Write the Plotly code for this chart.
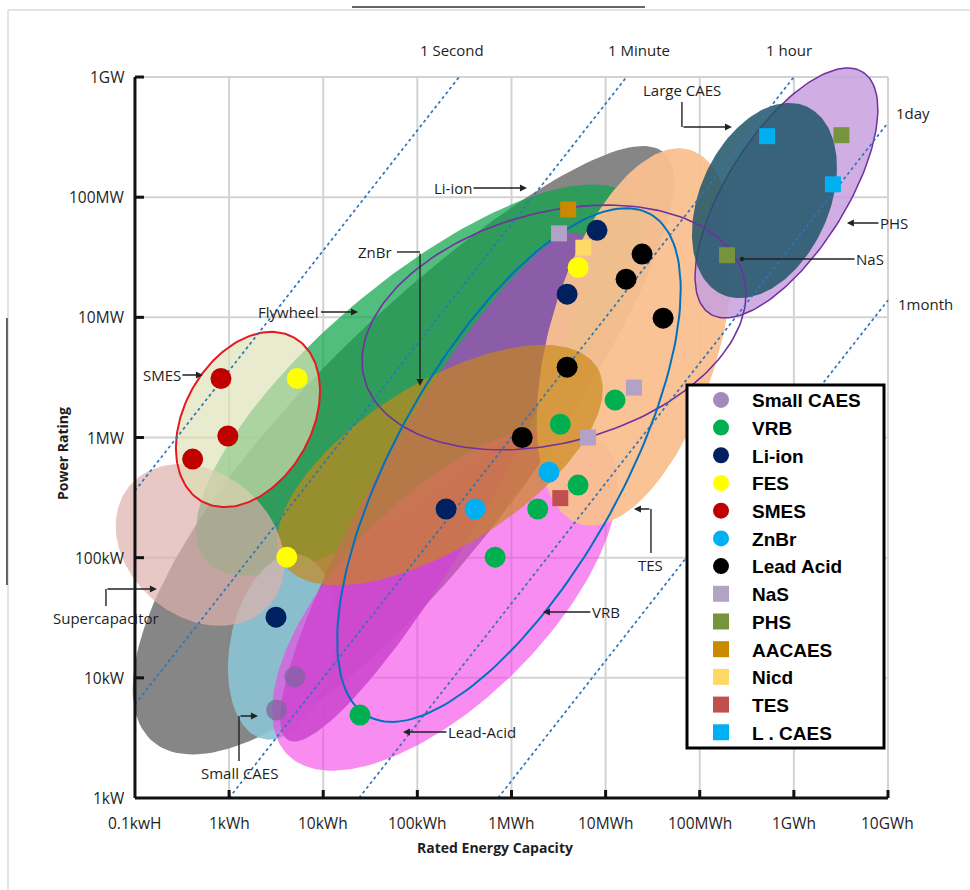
import numpy as np
import plotly.graph_objects as go

# ---------------------------------------------------------------- geometry
FIG_W, FIG_H = 970, 890
MARGIN = dict(l=96, r=79, t=59, b=89)
X_RANGE = [-1.414, 7.032]      # log10(kWh)
Y_RANGE = [-0.025, 6.15]       # log10(kW)
PX_X = (FIG_W - MARGIN["l"] - MARGIN["r"]) / (X_RANGE[1] - X_RANGE[0])
PX_Y = (FIG_H - MARGIN["t"] - MARGIN["b"]) / (Y_RANGE[1] - Y_RANGE[0])

# ---------------------------------------------------------------- axes
ENERGY_TICKS = [0.1, 1, 10, 1e2, 1e3, 1e4, 1e5, 1e6, 1e7]          # kWh
ENERGY_LABELS = ["0.1kwH", "1kWh", "10kWh", "100kWh", "1MWh", "10MWh",
                 "100MWh", "1GWh", "10GWh"]
POWER_TICKS = [1, 10, 1e2, 1e3, 1e4, 1e5, 1e6]                      # kW
POWER_LABELS = ["1kW", "10kW", "100kW", "1MW", "10MW", "100MW", "1GW"]

# discharge-time reference lines (hours)
DURATION_HOURS = [1 / 3600, 1 / 60, 1, 24, 720]
DURATION_LABELS = ["1 Second", "1 Minute", "1 hour", "1day", "1month"]

# ---------------------------------------------------------------- technologies (kWh, kW)
SMALL_CAES_E = [5.0, 3.2]
SMALL_CAES_P = [10.2, 5.4]
VRB_E = [24.6, 670, 1900, 5100, 3300, 12600]
VRB_P = [4.9, 101, 254, 402, 1290, 2050]
LI_ION_E = [3.15, 202, 3900, 8100]
LI_ION_P = [32, 254, 15600, 53000]
FES_E = [5.3, 4.1, 5100]
FES_P = [3100, 101, 26000]
SMES_E = [0.82, 0.97, 0.41]
SMES_P = [3100, 1030, 661]
ZNBR_E = [410, 2500]
ZNBR_P = [254, 515]
LEAD_ACID_E = [1300, 3900, 16500, 24400, 40800]
LEAD_ACID_P = [1000, 3850, 20800, 33600, 9850]
NAS_E = [3200, 20000, 6500]
NAS_P = [50000, 2600, 1000]
PHS_E = [195000, 3.2e6]
PHS_P = [32900, 328000]
AACAES_E = [4000]
AACAES_P = [79000]
NICD_E = [5800]
NICD_P = [38000]
TES_E = [3300]
TES_P = [313]
LCAES_E = [520000, 2.6e6]
LCAES_P = [322000, 128000]

TECH_NAMES = ["Small CAES", "VRB", "Li-ion", "FES", "SMES", "ZnBr", "Lead Acid",
              "NaS", "PHS", "AACAES", "Nicd", "TES", "L . CAES"]
TECH_E = [SMALL_CAES_E, VRB_E, LI_ION_E, FES_E, SMES_E, ZNBR_E, LEAD_ACID_E,
          NAS_E, PHS_E, AACAES_E, NICD_E, TES_E, LCAES_E]
TECH_P = [SMALL_CAES_P, VRB_P, LI_ION_P, FES_P, SMES_P, ZNBR_P, LEAD_ACID_P,
          NAS_P, PHS_P, AACAES_P, NICD_P, TES_P, LCAES_P]
TECH_COLORS = ["#8064A2", "#00B050", "#002060", "#FFFF00", "#C00000", "#00B0F0",
               "#000000", "#B3A2C7", "#77933C", "#C98A00", "#FFD966", "#C0504D",
               "#00B0F0"]
TECH_SYMBOLS = ["circle"] * 7 + ["square"] * 6
TECH_OPACITY = [0.75] + [1.0] * 12

# ---------------------------------------------------------------- operating regions
REGION_NAMES = ["Li-ion", "Flywheel", "Small CAES", "NiCd", "Lead-Acid", "TES",
                "ZnBr", "Supercapacitor", "SMES", "PHS", "Large CAES", "NaS", "VRB"]
REGION_E = [80.0, 106.7, 3.65, 150, 196, 20500, 174, 0.491, 1.587,
            834000, 487000, 2830, 940]                                   # centre, kWh
REGION_P = [835, 3010, 18.1, 387, 46.2, 6870, 590, 127.6, 1413,
            108400, 93800, 8240, 590]                                    # centre, kW
REGION_HALF_LEN = [390, 280, 94, 292, 222, 195, 185, 92, 94, 143, 103, 196.5, 288]
REGION_HALF_WID = [116, 100, 52, 56, 102, 85, 82, 72, 63.5, 59.4, 64.6, 115, 112]
REGION_TILT = [49, 40, 79, 60, 45, 73.7, 32, -40, 60.6, 57.7, 65.8, 15.2, 60.6]
REGION_EGG = [0.18, 0, 0, 0, 0, 0, 0, 0, 0, 0, 0, 0, 0]
REGION_FILL = ["rgba(127,127,127,0.95)", "rgba(15,165,75,0.72)",
               "rgba(140,196,212,0.9)", "rgba(150,85,175,0.9)",
               "rgba(243,63,230,0.6)", "rgba(249,192,143,0.95)",
               "rgba(200,135,25,0.68)", "rgba(222,177,171,0.7)",
               "rgba(220,225,180,0.65)", "rgba(200,160,222,0.85)",
               "rgba(30,85,105,0.85)", None, None]
REGION_LINE = [None, None, None, None, None, None, None, None,
               "rgb(230,25,35)", "rgb(112,48,160)", None,
               "rgb(112,48,160)", "rgb(0,112,192)"]
REGION_LINE_W = [0, 0, 0, 0, 0, 0, 0, 0, 2, 1.5, 0, 1.6, 2]


def ellipse(e, p, a, b, tilt, egg=0.0, n=180):
    """Outline of a tilted (optionally egg-shaped) ellipse, sized in screen px,
    returned in data units (kWh, kW)."""
    t = np.linspace(0, 2 * np.pi, n)
    u = a * np.cos(t)
    v = b * np.sin(t) * (1 - egg * np.cos(t))
    th = np.radians(tilt)
    dx = u * np.cos(th) - v * np.sin(th)
    dy = u * np.sin(th) + v * np.cos(th)
    return 10 ** (np.log10(e) + dx / PX_X), 10 ** (np.log10(p) + dy / PX_Y)


fig = go.Figure()


def add_line(xs, ys, color, width, dash=None):
    fig.add_trace(go.Scatter(x=xs, y=ys, mode="lines",
                             line=dict(color=color, width=width, dash=dash),
                             hoverinfo="skip", showlegend=False))


# grid
gx, gy = [], []
for e in ENERGY_TICKS[1:]:
    gx += [e, e, None]
    gy += [POWER_TICKS[0], POWER_TICKS[-1], None]
for p in POWER_TICKS[1:]:
    gx += [ENERGY_TICKS[0], ENERGY_TICKS[-1], None]
    gy += [p, p, None]
add_line(gx, gy, "#D3D3D3", 2)

# shaded technology regions
for i, name in enumerate(REGION_NAMES):
    xs, ys = ellipse(REGION_E[i], REGION_P[i], REGION_HALF_LEN[i],
                     REGION_HALF_WID[i], REGION_TILT[i], REGION_EGG[i])
    fill = REGION_FILL[i]
    fig.add_trace(go.Scatter(
        x=xs, y=ys, mode="lines", name=name,
        fill="toself" if fill else "none",
        fillcolor=fill if fill else None,
        line=dict(color=REGION_LINE[i] or "rgba(0,0,0,0)", width=REGION_LINE_W[i]),
        hoverinfo="skip", showlegend=False))

# discharge-time lines  E = P * t
lx_min, lx_max = np.log10(ENERGY_TICKS[0]), np.log10(ENERGY_TICKS[-1])
ly_min, ly_max = np.log10(POWER_TICKS[0]), np.log10(POWER_TICKS[-1])
dur_ends = []
for h in DURATION_HOURS:
    lt = np.log10(h)
    y0 = max(ly_min, lx_min - lt)
    y1 = min(ly_max, lx_max - lt)
    add_line([10 ** (y0 + lt), 10 ** (y1 + lt)], [10 ** y0, 10 ** y1],
             "#2E75B6", 1.7, "dot")
    dur_ends.append((y1 + lt, y1))

# axes lines and inward ticks
add_line([ENERGY_TICKS[0], ENERGY_TICKS[0]], [POWER_TICKS[0], POWER_TICKS[-1]], "#111", 3)
add_line([ENERGY_TICKS[0], ENERGY_TICKS[-1]], [POWER_TICKS[0], POWER_TICKS[0]], "#111", 3)
tx, ty = [], []
for e in ENERGY_TICKS[1:]:
    tx += [e, e, None]
    ty += [POWER_TICKS[0], POWER_TICKS[0] * 10 ** (8 / PX_Y), None]
for p in POWER_TICKS[1:]:
    tx += [ENERGY_TICKS[0], ENERGY_TICKS[0] * 10 ** (9 / PX_X), None]
    ty += [p, p, None]
add_line(tx, ty, "#111", 3)

# leader lines that turn a corner (label -> corner)
LEADERS_E = [[60.7, 106.7], [64700, 64700], [0.0492, 0.0492], [1.274, 1.274], [30340, 30340]]
LEADERS_P = [[35000, 35000], [620000, 383900], [39.6, 54.9], [2.03, 4.81], [109.4, 254]]
for xs, ys in zip(LEADERS_E, LEADERS_P):
    add_line(xs, ys, "#222", 1.4)

# technology markers
for i, name in enumerate(TECH_NAMES):
    fig.add_trace(go.Scatter(
        x=TECH_E[i], y=TECH_P[i], mode="markers", name=name,
        legendgroup=name,
        marker=dict(color=TECH_COLORS[i], symbol=TECH_SYMBOLS[i],
                    size=21 if TECH_SYMBOLS[i] == "circle" else 16,
                    opacity=TECH_OPACITY[i], line=dict(width=0)),
        hoverinfo="skip"))

# ---------------------------------------------------------------- text
TXT = dict(family="Open Sans", size=15, color="#1e1e1e")
ann = []
for p, lab in zip(POWER_TICKS, POWER_LABELS):
    ann.append(dict(x=np.log10(ENERGY_TICKS[0]), y=np.log10(p), text=lab,
                    xanchor="right", yanchor="middle", xshift=-8,
                    showarrow=False, font=dict(TXT, size=15.5)))
for e, lab in zip(ENERGY_TICKS, ENERGY_LABELS):
    ann.append(dict(x=np.log10(e), y=np.log10(POWER_TICKS[0]), text=lab,
                    xanchor="center", yanchor="top", yshift=-12,
                    showarrow=False, font=dict(TXT, size=15.5)))

# duration labels beside the ends of their lines
DUR_SHIFT = [(-7, 27, "center"), (13, 27, "center"), (-5, 27, "center"),
             (6, 10, "left"), (8, -4, "left")]
for (lx, ly), lab, (xs, ys, xa) in zip(dur_ends, DURATION_LABELS, DUR_SHIFT):
    ann.append(dict(x=lx, y=ly, text=lab, xanchor=xa, yanchor="middle",
                    xshift=xs, yshift=ys, showarrow=False, font=TXT))

ARROW = dict(showarrow=True, arrowhead=2, arrowsize=1, arrowwidth=1.4,
             arrowcolor="#222", font=TXT)
# straight arrows: label, tip energy, tip power, ax, ay
STRAIGHT = [("Li-ion", 1459, 119400, -74, 0),
            ("Flywheel", 23.4, 11090, -69, 0),
            ("SMES", 0.527, 3311, -41, 0),
            ("PHS", 3.66e6, 61000, 47, 0),
            ("Lead-Acid", 70.3, 3.54, 79, 0),
            ("VRB", 2158, 35.3, 63, 0)]
for lab, e, p, ax, ay in STRAIGHT:
    ann.append(dict(ARROW, x=np.log10(e), y=np.log10(p), text=lab, ax=ax, ay=ay))
ann.append(dict(ARROW, x=np.log10(281000), y=np.log10(30600), text="NaS",
                ax=128, ay=0, arrowhead=6, arrowsize=0.8))

# arrowheads of the cornered leaders
CORNER_TIPS = [(106.7, 2685, 0, -134), (219800, 383900, -50, 0),
               (0.171, 54.9, -51, 0), (2.026, 4.81, -19, 0), (20000, 254, 17, 0)]
for e, p, ax, ay in CORNER_TIPS:
    ann.append(dict(ARROW, x=np.log10(e), y=np.log10(p), text="", ax=ax, ay=ay))
CORNER_LABELS = [("ZnBr", 60.7, 35000, "right", "middle", -3, 0),
                 ("Large CAES", 64700, 620000, "center", "bottom", 0, 0),
                 ("Supercapacitor", 0.0492, 39.6, "center", "top", 0, 0),
                 ("Small CAES", 1.274, 2.03, "center", "top", 0, 0),
                 ("TES", 30340, 109.4, "center", "top", 0, 0)]
for lab, e, p, xa, ya, xs, ys in CORNER_LABELS:
    ann.append(dict(x=np.log10(e), y=np.log10(p), text=lab, xanchor=xa,
                    yanchor=ya, xshift=xs, yshift=ys, showarrow=False, font=TXT))

# axis titles
ann.append(dict(xref="paper", yref="paper", x=0.502, y=-0.0633,
                text="<b>Rated Energy Capacity</b>", showarrow=False,
                xanchor="center", yanchor="middle",
                font=dict(family="Open Sans", size=14, color="#1e1e1e")))
ann.append(dict(xref="paper", yref="paper", x=-0.0428, y=0.469,
                text="<b>Power Rating</b>", showarrow=False, textangle=-90,
                xanchor="center", yanchor="middle",
                font=dict(family="Open Sans", size=14, color="#1e1e1e")))

# page frame and the legend box
shapes = [
    dict(type="line", xref="paper", yref="paper", x0=-0.1107, x1=1.1, y0=1.066, y1=1.066,
         line=dict(color="#D5DEE6", width=1.5)),
    dict(type="line", xref="paper", yref="paper", x0=-0.1107, x1=-0.1107, y0=-0.13, y1=1.066,
         line=dict(color="#D5DEE6", width=1.5)),
    dict(type="line", xref="paper", yref="paper", x0=0.322, x1=0.6906, y0=1.070, y1=1.070,
         line=dict(color="#333", width=1.5)),
    dict(type="line", xref="paper", yref="paper", x0=-0.112, x1=-0.112, y0=0.291, y1=0.651,
         line=dict(color="#333", width=1.5)),
    dict(type="rect", xref="paper", yref="paper", x0=0.7434, x1=0.9912, y0=0.0714, y1=0.5606,
         line=dict(color="black", width=3), fillcolor="white", layer="above"),
]

fig.update_layout(
    width=FIG_W, height=FIG_H, margin=MARGIN,
    paper_bgcolor="white", plot_bgcolor="white",
    xaxis=dict(type="log", range=X_RANGE, visible=False),
    yaxis=dict(type="log", range=Y_RANGE, visible=False),
    annotations=ann, shapes=shapes, hovermode=False,
    legend=dict(x=0.7472, y=0.566, xanchor="left", yanchor="top",
                bgcolor="rgba(0,0,0,0)", borderwidth=0,
                font=dict(family="Liberation Sans", size=19, color="black", weight="bold"),
                itemwidth=52, tracegroupgap=0),
)

fig.write_html("out.html")
